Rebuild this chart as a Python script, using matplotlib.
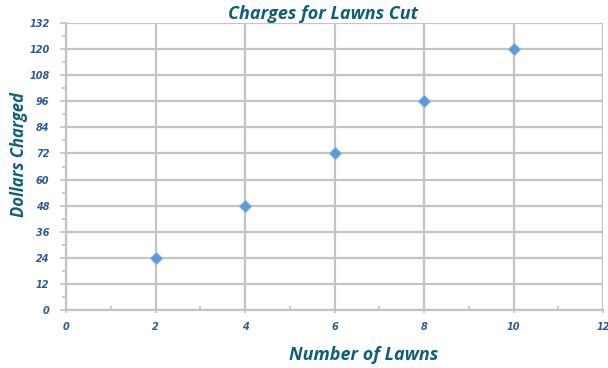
import matplotlib
matplotlib.use("Agg")
import matplotlib.pyplot as plt
from matplotlib.ticker import MultipleLocator

lawns = [2, 4, 6, 8, 10]
dollars = [24, 48, 72, 96, 120]
x_ticks = [0, 2, 4, 6, 8, 10, 12]
y_ticks = [0, 12, 24, 36, 48, 60, 72, 84, 96, 108, 120, 132]

title_color = "#105f79"
tick_color = "#2f5a9a"
grid_color = "#c4c4c4"

plt.rcParams["font.family"] = ["Open Sans", "DejaVu Sans"]

fig = plt.figure(figsize=(6.08, 3.68), dpi=100)
ax = fig.add_axes([66 / 608, 1 - 310 / 368, (603 - 66) / 608, (310 - 23) / 368])

ax.set_xlim(0, 12)
ax.set_ylim(0, 132)
ax.set_xticks(x_ticks)
ax.set_yticks(y_ticks)
ax.xaxis.set_minor_locator(MultipleLocator(1))
ax.yaxis.set_minor_locator(MultipleLocator(6))
ax.grid(True, which="major", color=grid_color, linewidth=1.6)
ax.set_axisbelow(True)

for side in ["top", "right"]:
    ax.spines[side].set_visible(False)
for side in ["left", "bottom"]:
    ax.spines[side].set_color(grid_color)
    ax.spines[side].set_linewidth(1.6)

ax.tick_params(which="both", color=grid_color, width=1.2, direction="out")
ax.tick_params(axis="y", which="major", length=4, pad=8)
ax.tick_params(axis="y", which="minor", length=3)
ax.tick_params(axis="x", which="major", direction="out", length=2, pad=7)
ax.tick_params(axis="x", which="minor", direction="in", length=3)
for lbl in ax.get_xticklabels() + ax.get_yticklabels():
    lbl.set_family("DejaVu Sans")
    lbl.set_fontsize(7)
    lbl.set_fontweight("bold")
    lbl.set_fontstyle("italic")
    lbl.set_color(tick_color)

ax.scatter(lawns, dollars, marker="D", s=40, color="#5b9bd5",
           edgecolors="#8cb8e4", linewidths=0.6, zorder=3, clip_on=False)

fig.text(323 / 608, 1 - 14 / 368, "Charges for Lawns Cut", ha="center", va="center",
         fontsize=13, fontweight="bold", fontstyle="italic", color=title_color)
fig.text(19 / 608, 1 - 155 / 368, "Dollars Charged", ha="center", va="center",
         rotation=90, fontsize=12, fontweight="bold", fontstyle="italic", color=title_color)
fig.text(364 / 608, 1 - 355 / 368, "Number of Lawns", ha="center", va="center",
         fontsize=13, fontweight="bold", fontstyle="italic", color=title_color)

fig.savefig("out.png", dpi=100, facecolor="white")
